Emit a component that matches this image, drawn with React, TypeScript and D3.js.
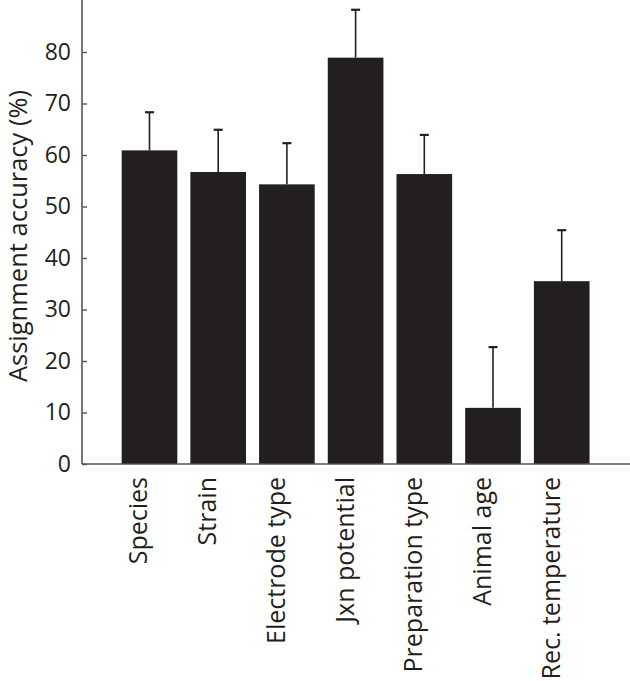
import React, { useEffect, useRef } from "react";
import { axisLeft, scaleBand, scaleLinear, select } from "d3";

// chart data
const categories = [
  "Species",
  "Strain",
  "Electrode type",
  "Jxn potential",
  "Preparation type",
  "Animal age",
  "Rec. temperature",
];
const accuracy = [60.9, 56.7, 54.3, 78.9, 56.3, 10.9, 35.5];
const errorTop = [68.3, 64.9, 62.3, 88.2, 63.9, 22.7, 45.4];
const yTicks = [0, 10, 20, 30, 40, 50, 60, 70, 80];

const W = 630;
const H = 681;
const ink = "#231f20";
const font = "'Open Sans', sans-serif";

function App() {
  const svgRef = useRef(null);

  useEffect(() => {
    const svg = select(svgRef.current);
    svg.selectAll("*").remove();

    const axisX = 82;
    const baseY = 464;

    const y = scaleLinear().domain([0, 90]).range([baseY, baseY - 9 * 51.5]);
    const x = scaleBand().domain(categories).range([108.6, 602.6]).padding(0.19);

    // bars
    svg.selectAll(".bar")
      .data(categories)
      .join("rect")
      .attr("class", "bar")
      .attr("x", (d) => x(d))
      .attr("width", x.bandwidth())
      .attr("y", (d, i) => y(accuracy[i]))
      .attr("height", (d, i) => y(0) - y(accuracy[i]))
      .attr("fill", ink);

    // error bars (upper only)
    const err = svg.selectAll(".err")
      .data(categories)
      .join("g")
      .attr("class", "err")
      .attr("stroke", ink)
      .attr("stroke-width", 1.6);
    err.append("line")
      .attr("x1", (d) => x(d) + x.bandwidth() / 2)
      .attr("x2", (d) => x(d) + x.bandwidth() / 2)
      .attr("y1", (d, i) => y(accuracy[i]))
      .attr("y2", (d, i) => y(errorTop[i]));
    err.append("line")
      .attr("x1", (d) => x(d) + x.bandwidth() / 2 - 4.5)
      .attr("x2", (d) => x(d) + x.bandwidth() / 2 + 4.5)
      .attr("y1", (d, i) => y(errorTop[i]))
      .attr("y2", (d, i) => y(errorTop[i]))
      .attr("stroke-width", 2.2);

    // y axis
    const yAxis = axisLeft(y).tickValues(yTicks).tickSize(-5).tickPadding(11);
    const gy = svg.append("g").attr("transform", `translate(${axisX},0)`).call(yAxis);
    gy.select(".domain").remove();
    gy.selectAll(".tick line").attr("stroke", "#555").attr("stroke-width", 1.4);
    gy.selectAll(".tick text")
      .attr("fill", ink)
      .style("font-family", font)
      .style("font-size", "23px");
    svg.append("line")
      .attr("x1", axisX).attr("x2", axisX)
      .attr("y1", 0).attr("y2", baseY)
      .attr("stroke", "#555").attr("stroke-width", 1.6);

    // x axis line
    svg.append("line")
      .attr("x1", axisX).attr("x2", W)
      .attr("y1", baseY).attr("y2", baseY)
      .attr("stroke", "#555").attr("stroke-width", 1.6);

    // category labels
    svg.selectAll(".xlab")
      .data(categories)
      .join("text")
      .attr("class", "xlab")
      .attr("transform", (d) => `translate(${x(d) + x.bandwidth() / 2 - 2},477) rotate(-90)`)
      .attr("text-anchor", "end")
      .attr("fill", ink)
      .style("font-family", font)
      .style("font-size", "25px")
      .text((d) => d);

    // y title
    svg.append("text")
      .attr("transform", `translate(27,236) rotate(-90)`)
      .attr("text-anchor", "middle")
      .attr("fill", ink)
      .style("font-family", font)
      .style("font-size", "25.5px")
      .text("Assignment accuracy (%)");
  }, []);

  return (
    <div style={{ position: "absolute", left: 0, top: 0 }}>
      <svg ref={svgRef} width={W} height={H} style={{ display: "block", background: "#fff" }} />
    </div>
  );
}

export default App;
